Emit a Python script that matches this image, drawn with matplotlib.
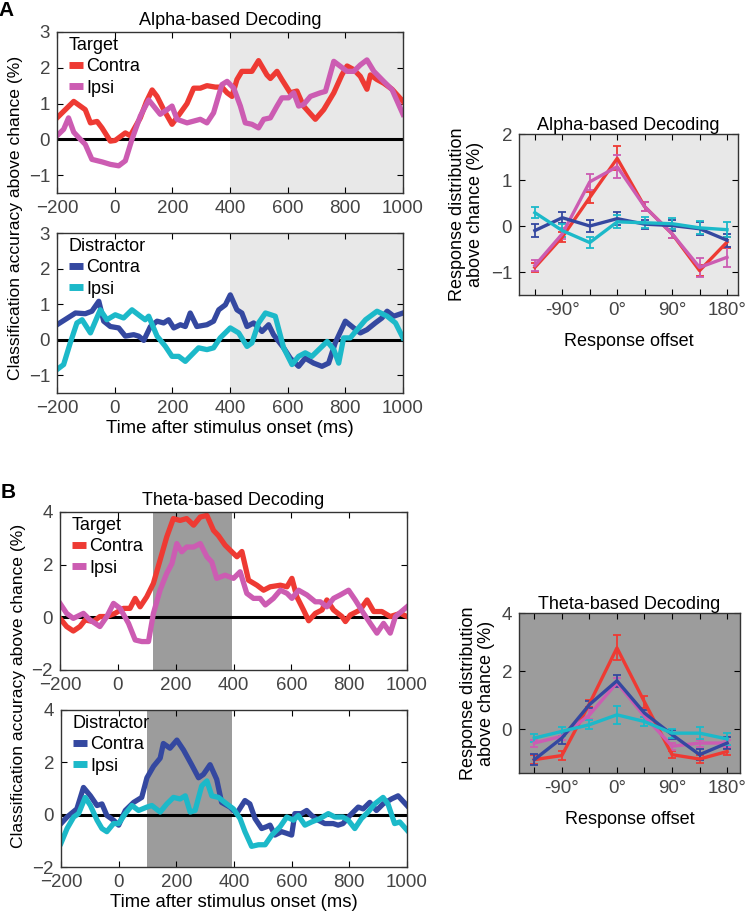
import matplotlib
matplotlib.use("Agg")
import matplotlib.pyplot as plt
import numpy as np

plt.rcParams["font.family"] = ["Liberation Sans", "DejaVu Sans"]

W, H = 748, 917

RED = "#ee3a33"
PINK = "#cc5cb2"
BLUE = "#3448a0"
CYAN = "#1cb9c9"
LIGHT = "#e8e8e8"
DARK = "#9c9c9c"

# ---- alpha, target ----
a_tc_t = [-200, -171, -142, -102, -84, -61, -44, -15, 2, 37, 54, 89, 110, 130, 147, 170, 199, 228, 251, 274,
          297, 320, 349, 372, 390, 407, 424, 441, 476, 499, 528, 540, 563, 580, 609, 632, 655, 696, 725, 760,
          788, 806, 829, 852, 875, 887, 910, 933, 962, 1000]
a_tc_v = [0.6, 0.83, 1.06, 0.83, 0.46, 0.5, 0.32, -0.05, -0.03, 0.18, 0.1, 0.6, 1.05, 1.38, 1.2, 0.83, 0.42, 0.74, 1.0, 1.43,
          1.43, 1.5, 1.46, 1.46, 1.3, 1.2, 1.67, 1.9, 1.9, 2.2, 1.8, 1.7, 1.9, 1.67, 1.3, 1.35, 0.93, 0.56, 0.83, 1.3,
          1.8, 2.05, 1.95, 1.76, 1.4, 1.8, 1.67, 1.57, 1.4, 1.06]
a_ti_t = [-200, -177, -160, -142, -119, -102, -79, -44, -15, 14, 37, 60, 89, 118, 135, 158, 182, 199, 216, 251,
          274, 297, 320, 343, 372, 390, 413, 436, 453, 476, 499, 517, 540, 563, 580, 603, 621, 638, 655, 679,
          713, 731, 760, 783, 806, 829, 852, 875, 899, 933, 962, 1000]
a_ti_v = [0.1, 0.28, 0.6, 0.2, 0.0, -0.14, -0.56, -0.63, -0.7, -0.74, -0.6, 0.0, 0.65, 1.1, 0.93, 0.7, 0.83, 0.93, 0.56, 0.46,
          0.51, 0.56, 0.46, 0.74, 1.53, 1.62, 1.43, 0.93, 0.46, 0.42, 0.32, 0.56, 0.6, 0.93, 1.16, 1.16, 1.3, 0.93, 0.97, 1.2,
          1.3, 1.34, 2.18, 2.04, 1.9, 1.9, 2.08, 2.22, 1.9, 1.62, 1.39, 0.7]

# ---- alpha, distractor ----
a_dc_t = [-200, -165, -136, -102, -79, -55, -38, -15, 14, 37, 66, 83, 101, 124, 147, 170, 187, 205, 228, 245,
          262, 285, 320, 343, 361, 384, 401, 424, 441, 459, 482, 511, 534, 551, 586, 609, 638, 661, 690, 719,
          742, 765, 800, 829, 852, 875, 904, 927, 945, 968, 1000]
a_dc_v = [0.42, 0.6, 0.75, 0.73, 0.8, 1.08, 0.52, 0.37, 0.33, 0.1, 0.14, 0.1, -0.02, 0.37, 0.52, 0.47, 0.56, 0.33, 0.42, 0.37,
          0.75, 0.37, 0.42, 0.52, 0.84, 0.98, 1.26, 0.84, 0.75, 0.37, 0.47, 0.23, 0.42, 0.14, -0.23, -0.52, -0.75, -0.52, -0.66, -0.75,
          -0.66, -0.09, 0.52, 0.33, 0.19, 0.28, 0.47, 0.61, 0.8, 0.66, 0.75]
a_di_t = [-200, -177, -154, -131, -113, -84, -50, -27, 2, 31, 60, 89, 106, 118, 147, 176, 199, 222, 245, 268,
          291, 320, 343, 366, 401, 430, 459, 476, 499, 523, 557, 586, 615, 638, 661, 684, 708, 737, 760, 777,
          794, 817, 846, 870, 910, 945, 974, 1000]
a_di_v = [-0.84, -0.7, -0.09, 0.47, 0.56, 0.19, 0.84, 0.56, 0.7, 0.61, 0.84, 0.66, 0.56, 0.66, 0.1, -0.19, -0.47, -0.47, -0.61, -0.42,
          -0.23, -0.28, -0.23, 0.05, 0.33, 0.19, -0.19, -0.09, 0.47, 0.75, 0.66, -0.23, -0.7, -0.47, -0.37, -0.47, -0.28, -0.05, -0.28, -0.66,
          0.05, 0.05, 0.33, 0.56, 0.8, 0.66, 0.47, 0.05]

# ---- theta, target ----
t_tc_t = [-200, -177, -154, -131, -113, -85, -62, -38, -10, 19, 42, 60, 77, 100, 123, 146, 169, 192, 215, 238,
          262, 285, 308, 331, 348, 371, 394, 412, 429, 452, 481, 504, 527, 562, 585, 602, 619, 642, 660, 683,
          706, 723, 746, 775, 787, 804, 838, 862, 885, 913, 942, 977, 1000]
t_tc_v = [-0.04, -0.35, -0.52, -0.35, -0.1, -0.16, 0.03, 0.03, 0.15, 0.34, 0.34, 0.72, 0.4, 0.78, 1.29, 2.17, 3.05, 3.75, 3.68, 3.75,
          3.5, 3.81, 3.87, 3.3, 3.1, 2.74, 2.49, 2.3, 2.5, 1.41, 1.22, 1.03, 1.16, 1.22, 1.16, 1.48, 0.78, 0.28, -0.13, 0.15,
          0.28, 0.66, 0.28, 0.03, -0.16, 0.09, 0.28, 0.66, 0.22, 0.22, 0.03, 0.15, 0.03]
t_ti_t = [-200, -177, -154, -119, -96, -62, -38, -15, 8, 37, 60, 83, 106, 123, 146, 169, 187, 204, 221, 238,
          262, 285, 308, 325, 342, 371, 400, 423, 446, 469, 492, 510, 538, 562, 585, 602, 625, 654, 683, 700,
          723, 746, 769, 798, 821, 850, 873, 896, 919, 942, 960, 1000]
t_ti_v = [0.53, 0.15, -0.04, 0.15, -0.1, -0.35, 0.03, 0.53, 0.34, -0.23, -0.86, -0.92, -0.92, 0.15, 1.03, 1.67, 2.04, 2.8, 2.49, 2.67,
          2.67, 2.8, 2.3, 2.1, 1.48, 1.6, 1.48, 1.73, 0.91, 0.72, 0.72, 0.47, 0.72, 1.03, 0.91, 0.72, 1.03, 0.85, 0.59, 0.59,
          0.4, 0.72, 0.85, 1.03, 0.66, 0.15, -0.23, -0.6, -0.23, -0.6, 0.03, 0.4]

# ---- theta, distractor ----
t_dc_t = [-200, -179, -145, -122, -98, -75, -58, -41, -18, 0, 23, 52, 80, 98, 121, 144, 155, 178, 202, 225,
          253, 277, 294, 317, 340, 357, 386, 409, 438, 455, 473, 496, 513, 525, 542, 565, 582, 600, 611, 634,
          652, 669, 692, 715, 744, 761, 778, 802, 831, 848, 871, 894, 917, 946, 969, 1000]
t_dc_v = [-0.34, -0.09, 0.22, 1.04, 0.72, 0.35, 0.41, -0.03, -0.21, -0.4, 0.16, 0.47, 0.66, 1.41, 1.85, 2.16, 2.72, 2.54, 2.85, 2.47,
          1.91, 1.41, 1.54, 1.91, 1.35, 0.47, 0.29, 0.04, 0.54, 0.41, -0.15, -0.53, -0.46, -0.4, -0.78, -0.65, -0.71, -0.78, 0.04, 0.04,
          0.16, -0.03, -0.21, -0.34, -0.34, -0.4, -0.34, -0.03, 0.29, 0.22, 0.47, 0.16, 0.41, 0.6, 0.72, 0.35]
t_di_t = [-200, -179, -156, -139, -116, -98, -75, -58, -41, -18, 0, 23, 46, 69, 98, 115, 144, 167, 190, 213,
          231, 248, 265, 288, 306, 323, 346, 375, 398, 421, 438, 461, 485, 508, 531, 560, 583, 606, 623, 646,
          669, 698, 727, 750, 778, 796, 819, 842, 865, 888, 917, 934, 957, 975, 1000]
t_di_v = [-1.09, -0.53, -0.09, 0.04, 0.66, 0.35, -0.21, -0.53, -0.65, -0.34, -0.34, 0.04, 0.35, 0.16, 0.29, 0.35, 0.1, 0.41, 0.66, 0.6,
          0.72, 0.1, 0.16, 1.1, 1.29, 0.72, 0.66, 0.41, 0.22, -0.15, -0.65, -1.21, -1.15, -1.15, -0.78, -0.46, -0.09, -0.21, -0.03, -0.4,
          -0.28, -0.15, 0.04, -0.09, -0.09, -0.21, -0.53, -0.15, 0.1, 0.41, 0.66, 0.41, -0.34, -0.28, -0.59]

# ---- response distributions ----
offsets = [-135, -90, -45, 0, 45, 90, 135, 180]
offset_labels = ["", "-90°", "", "0°", "", "90°", "", "180°"]

ra_tc = [-0.9, -0.24, 0.62, 1.47, 0.42, -0.17, -0.97, -0.35]
ra_tc_e = [0.1, 0.1, 0.12, 0.26, 0.1, 0.1, 0.12, 0.12]
ra_ti = [-0.86, -0.17, 0.96, 1.29, 0.42, -0.17, -0.9, -0.68]
ra_ti_e = [0.12, 0.12, 0.17, 0.25, 0.1, 0.1, 0.2, 0.22]
ra_dc = [-0.1, 0.18, 0.0, 0.16, 0.04, 0.01, -0.06, -0.31]
ra_dc_e = [0.14, 0.12, 0.12, 0.14, 0.1, 0.12, 0.14, 0.14]
ra_di = [0.29, -0.1, -0.36, 0.09, 0.07, 0.05, -0.04, -0.08]
ra_di_e = [0.12, 0.14, 0.12, 0.14, 0.12, 0.12, 0.14, 0.16]

rb_tc = [-1.04, -0.9, 0.88, 2.8, 0.94, -0.87, -1.02, -0.76]
rb_tc_e = [0.15, 0.15, 0.12, 0.43, 0.2, 0.13, 0.15, 0.13]
rb_ti = [-0.47, -0.24, 0.5, 1.6, 0.45, -0.58, -0.47, -0.47]
rb_ti_e = [0.12, 0.12, 0.15, 0.15, 0.12, 0.12, 0.12, 0.12]
rb_dc = [-1.04, -0.3, 0.85, 1.67, 0.56, -0.18, -0.87, -0.47]
rb_dc_e = [0.2, 0.2, 0.12, 0.2, 0.12, 0.15, 0.2, 0.2]
rb_di = [-0.3, -0.07, 0.16, 0.5, 0.27, -0.13, -0.13, -0.33]
rb_di_e = [0.15, 0.15, 0.15, 0.3, 0.15, 0.15, 0.2, 0.2]


def px_axes(fig, left, top, right, bottom):
    return fig.add_axes([left / W, 1 - bottom / H, (right - left) / W, (bottom - top) / H])


def style(ax):
    ax.tick_params(direction="in", top=True, right=True, length=4, width=0.8,
                   labelsize=13.5, labelcolor="#444444", pad=5)
    for s in ax.spines.values():
        s.set_color("#333333")
        s.set_linewidth(1.0)


def time_panel(ax, series, shade, shade_color, ylim, yticks, legend_title):
    ax.axvspan(shade[0], shade[1], color=shade_color, zorder=0, lw=0)
    ax.axhline(0, color="black", lw=2.2, zorder=1)
    for t, v, c, lab in series:
        ax.plot(t, v, color=c, lw=3.8, label=lab, zorder=2, solid_joinstyle="round")
    ax.set_xlim(-200, 1000)
    ax.set_ylim(*ylim)
    ax.set_xticks(np.arange(-200, 1001, 200))
    ax.set_yticks(yticks)
    style(ax)
    leg = ax.legend(loc="upper left", title=legend_title, frameon=False, fontsize=13,
                    title_fontsize=13, handlelength=0.8, handletextpad=0.2,
                    labelspacing=0.25, borderaxespad=0.1, borderpad=0.25, alignment="left")
    leg.set_bbox_to_anchor((0.015, 1.01), transform=ax.transAxes)
    for h in leg.legend_handles:
        h.set_linewidth(5)
        h.set_solid_capstyle("butt")


def resp_panel(ax, series, bg, xlim, ylim, yticks, title):
    ax.set_facecolor(bg)
    for v, e, c in series:
        ax.errorbar(offsets, v, yerr=e, color=c, lw=2.4, elinewidth=1.3, capsize=3, capthick=1.3)
    ax.set_xlim(*xlim)
    ax.set_ylim(*ylim)
    ax.set_xticks(offsets)
    ax.set_xticklabels(offset_labels)
    ax.set_yticks(yticks)
    style(ax)
    ax.set_title(title, fontsize=13, pad=3)
    ax.set_xlabel("Response offset", fontsize=13, labelpad=10)
    ax.set_ylabel("Response distribution\nabove chance (%)", fontsize=13, labelpad=5, linespacing=1.05)


fig = plt.figure(figsize=(W / 100, H / 100), dpi=100)

# Panel A
ax = px_axes(fig, 57, 32, 403, 193)
time_panel(ax, [(a_tc_t, a_tc_v, RED, "Contra"), (a_ti_t, a_ti_v, PINK, "Ipsi")],
           (400, 1000), LIGHT, (-1.5, 3), [-1, 0, 1, 2, 3], "Target")
ax.set_title("Alpha-based Decoding", fontsize=13, pad=5)

ax = px_axes(fig, 57, 233, 403, 393)
time_panel(ax, [(a_dc_t, a_dc_v, BLUE, "Contra"), (a_di_t, a_di_v, CYAN, "Ipsi")],
           (400, 1000), LIGHT, (-1.5, 3), [-1, 0, 1, 2, 3], "Distractor")
ax.set_xlabel("Time after stimulus onset (ms)", fontsize=13.3, labelpad=2)

fig.text(16 / W, 1 - 218 / H, "Classification accuracy above chance (%)", rotation=90,
         ha="center", va="center", fontsize=12.6)

ax = px_axes(fig, 519, 134, 738, 295)
resp_panel(ax, [(ra_tc, ra_tc_e, RED), (ra_ti, ra_ti_e, PINK), (ra_dc, ra_dc_e, BLUE), (ra_di, ra_di_e, CYAN)],
           LIGHT, (-161, 198), (-1.5, 2), [-1, 0, 1, 2], "Alpha-based Decoding")

# Panel B
ax = px_axes(fig, 60, 512, 407, 670)
time_panel(ax, [(t_tc_t, t_tc_v, RED, "Contra"), (t_ti_t, t_ti_v, PINK, "Ipsi")],
           (120, 395), DARK, (-2, 4), [-2, 0, 2, 4], "Target")
ax.set_title("Theta-based Decoding", fontsize=13, pad=5)

ax = px_axes(fig, 61, 710, 407, 867)
time_panel(ax, [(t_dc_t, t_dc_v, BLUE, "Contra"), (t_di_t, t_di_v, CYAN, "Ipsi")],
           (98, 392), DARK, (-2, 4), [-2, 0, 2, 4], "Distractor")
ax.set_xlabel("Time after stimulus onset (ms)", fontsize=13.3, labelpad=2)

fig.text(19 / W, 1 - 686 / H, "Classification accuracy above chance (%)", rotation=90,
         ha="center", va="center", fontsize=12.6)

ax = px_axes(fig, 519, 613, 740, 773)
resp_panel(ax, [(rb_tc, rb_tc_e, RED), (rb_ti, rb_ti_e, PINK), (rb_dc, rb_dc_e, BLUE), (rb_di, rb_di_e, CYAN)],
           DARK, (-160, 201), (-1.5, 4), [0, 2, 4], "Theta-based Decoding")

fig.text(6 / W, 1 - 10 / H, "A", fontsize=15, fontweight="bold", ha="center", va="center")
fig.text(8 / W, 1 - 492 / H, "B", fontsize=15, fontweight="bold", ha="center", va="center")

fig.savefig("out.png", dpi=100)
